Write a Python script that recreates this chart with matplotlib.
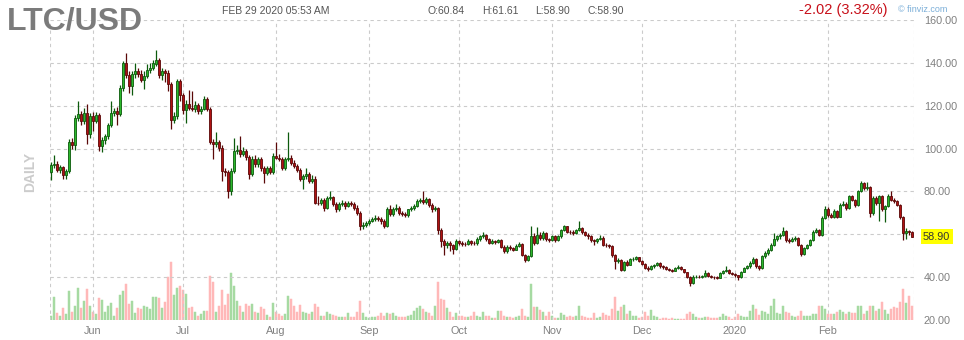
import matplotlib
matplotlib.use('Agg')
import matplotlib.pyplot as plt
import numpy as np
import pandas as pd

# ---------------- data ----------------
start_date = '2019-05-18'

opens = [89.0, 92.5, 93.0, 90.0, 91.5, 87.5, 89.5, 103.0, 101.5, 114.3,
         116.0, 113.0, 116.6, 106.6, 115.0, 113.0, 115.5, 101.4, 104.0, 106.0,
         111.0, 116.6, 117.5, 116.0, 128.3, 140.0, 134.5, 129.0, 134.6, 136.0,
         135.0, 132.0, 134.0, 136.6, 137.7, 139.7, 141.3, 134.5, 136.0, 135.3,
         130.0, 113.5, 115.0, 131.4, 125.0, 118.2, 121.0, 119.0, 118.5, 120.5,
         117.5, 118.5, 123.0, 118.5, 103.2, 102.0, 103.0, 100.5, 89.5, 89.0,
         80.0, 89.6, 99.0, 99.5, 97.4, 99.0, 96.0, 88.0, 95.0, 92.7,
         95.0, 91.0, 88.8, 91.0, 89.0, 96.6, 95.8, 95.0, 91.0, 95.0,
         95.8, 93.5, 92.0, 90.0, 86.0, 87.2, 88.0, 85.0, 86.0, 74.8,
         74.5, 76.0, 72.4, 77.0, 77.3, 74.0, 71.6, 74.0, 74.8, 73.0,
         74.6, 74.0, 72.5, 70.0, 63.8, 64.5, 65.5, 66.3, 67.0, 67.8,
         67.0, 66.3, 64.0, 71.6, 69.3, 71.6, 72.4, 70.0, 69.5, 68.8,
         71.6, 72.4, 73.0, 75.5, 76.0, 75.0, 76.3, 73.5, 71.6, 72.2,
         62.0, 57.0, 55.0, 56.0, 55.0, 53.0, 57.0, 56.0, 55.5, 55.3,
         57.0, 56.0, 55.8, 58.0, 59.0, 59.6, 57.8, 56.0, 57.0, 56.5,
         57.3, 54.3, 52.0, 54.3, 53.5, 52.8, 54.6, 55.3, 50.4, 48.1,
         50.0, 59.0, 55.9, 59.8, 58.2, 60.5, 57.8, 57.4, 59.0, 57.4,
         59.0, 62.0, 63.7, 61.3, 61.0, 60.5, 62.0, 62.8, 60.9, 59.8,
         59.0, 57.4, 56.7, 58.0, 58.5, 55.0, 54.8, 54.4, 50.4, 47.4,
         48.0, 43.5, 47.0, 45.8, 48.4, 48.6, 49.2, 47.7, 46.0, 44.5,
         44.0, 45.0, 45.6, 46.5, 45.0, 44.7, 44.0, 43.5, 43.0, 44.2,
         44.8, 43.7, 42.2, 40.0, 37.5, 40.0, 40.3, 40.0, 40.5, 41.9,
         40.4, 40.1, 40.0, 39.8, 41.9, 43.0, 43.5, 42.0, 41.6, 40.8,
         40.0, 42.6, 44.2, 45.0, 46.5, 48.5, 45.0, 44.2, 49.7, 51.2,
         52.7, 55.0, 57.8, 59.0, 59.8, 61.5, 57.5, 57.0, 58.0, 58.3,
         55.0, 51.0, 53.5, 55.0, 57.4, 61.3, 62.0, 59.6, 67.5, 72.0,
         69.0, 68.3, 71.0, 68.3, 73.8, 74.2, 72.2, 77.7, 76.0, 73.5,
         80.0, 83.9, 81.5, 82.0, 70.0, 77.0, 74.5, 77.7, 72.0, 73.0,
         78.0, 76.2, 75.5, 73.5, 68.0, 60.5, 61.5, 60.84]

highs = [93.5, 97.0, 94.0, 92.5, 92.0, 90.5, 104.5, 105.0, 115.5, 122.4,
         117.5, 119.0, 121.0, 116.5, 117.0, 117.0, 116.5, 105.5, 107.0, 112.0,
         122.0, 119.0, 119.5, 129.5, 141.0, 144.7, 136.0, 136.0, 140.0, 137.5,
         136.5, 136.0, 139.5, 140.0, 141.5, 146.0, 142.5, 137.5, 137.0, 136.5,
         131.0, 117.0, 132.5, 132.5, 126.0, 122.5, 127.5, 127.0, 122.0, 121.5,
         120.0, 124.5, 124.0, 119.5, 104.5, 107.5, 104.0, 101.5, 91.0, 90.0,
         91.0, 105.0, 101.5, 106.0, 100.5, 100.0, 97.0, 96.5, 97.0, 96.0,
         96.0, 92.0, 92.0, 92.0, 98.0, 103.0, 97.5, 96.0, 96.0, 107.5,
         97.0, 94.5, 93.0, 91.0, 88.0, 91.0, 89.0, 87.5, 87.0, 78.0,
         77.0, 77.0, 78.0, 80.0, 78.0, 75.0, 75.0, 76.0, 75.5, 75.5,
         75.5, 75.0, 73.5, 71.0, 65.5, 66.0, 67.0, 68.0, 69.0, 68.5,
         68.0, 67.0, 72.5, 73.5, 72.5, 74.0, 73.0, 71.0, 70.5, 72.0,
         73.0, 74.0, 76.5, 77.0, 80.0, 77.5, 77.0, 74.5, 73.0, 72.8,
         63.0, 58.0, 57.0, 57.0, 55.5, 58.0, 57.5, 57.0, 56.5, 57.8,
         57.5, 57.0, 58.8, 59.8, 61.0, 60.0, 58.5, 57.8, 57.5, 58.0,
         57.8, 55.0, 55.0, 55.0, 54.0, 55.5, 56.5, 55.8, 51.0, 50.5,
         64.0, 60.5, 63.5, 61.0, 61.5, 61.0, 58.5, 59.5, 59.5, 59.5,
         62.5, 64.5, 64.0, 62.0, 61.8, 62.5, 66.0, 63.5, 61.5, 60.5,
         59.5, 58.0, 58.5, 59.5, 59.0, 56.0, 55.5, 55.0, 51.0, 49.0,
         48.5, 47.5, 48.0, 49.0, 49.5, 50.0, 49.5, 48.0, 46.5, 45.0,
         45.5, 46.0, 47.0, 47.0, 45.5, 45.0, 44.5, 44.0, 44.8, 45.5,
         45.2, 44.0, 42.5, 40.5, 40.8, 41.0, 40.8, 41.0, 43.5, 42.3,
         41.0, 40.5, 40.4, 42.3, 43.5, 45.0, 44.0, 42.5, 42.0, 41.2,
         43.0, 44.6, 45.5, 47.5, 49.5, 49.0, 45.5, 50.5, 52.0, 53.5,
         55.8, 60.5, 59.8, 60.5, 63.5, 62.0, 58.3, 58.8, 59.0, 58.8,
         55.5, 54.0, 55.5, 58.0, 62.0, 63.0, 62.5, 68.5, 73.0, 72.8,
         70.0, 71.8, 71.5, 74.5, 75.5, 75.0, 78.5, 78.5, 76.5, 80.5,
         85.0, 84.5, 84.5, 82.5, 78.0, 78.0, 78.5, 78.5, 73.8, 78.8,
         80.0, 77.0, 76.0, 74.0, 68.5, 63.0, 62.0, 61.61]

lows = [85.5, 91.0, 89.0, 88.5, 86.0, 86.0, 88.5, 100.0, 99.5, 113.0,
        111.0, 111.5, 102.0, 105.0, 108.0, 112.0, 99.0, 98.5, 102.0, 104.5,
        110.0, 115.0, 111.0, 115.0, 127.0, 133.0, 126.0, 125.0, 133.0, 133.5,
        131.0, 128.0, 133.0, 135.5, 136.5, 138.5, 133.0, 132.0, 131.0, 127.0,
        109.0, 112.0, 114.0, 122.0, 116.0, 112.0, 118.0, 117.5, 117.0, 116.0,
        116.0, 118.0, 117.5, 102.0, 95.0, 100.5, 99.0, 85.0, 87.0, 77.0,
        78.5, 88.5, 97.5, 96.0, 96.5, 94.5, 86.0, 87.0, 91.5, 91.5,
        89.5, 84.0, 87.5, 88.0, 88.0, 95.0, 94.0, 90.0, 90.0, 94.0,
        92.5, 91.0, 89.0, 85.0, 81.0, 86.0, 84.0, 84.0, 74.0, 73.5,
        73.5, 71.0, 72.0, 76.0, 73.0, 70.5, 71.0, 73.0, 72.0, 72.5,
        73.0, 71.5, 69.0, 62.0, 62.5, 63.5, 64.5, 65.5, 66.0, 66.0,
        65.0, 63.0, 63.5, 68.5, 68.5, 71.0, 69.0, 68.5, 68.0, 68.0,
        71.0, 71.5, 72.5, 74.5, 74.0, 74.0, 72.5, 70.5, 71.0, 60.0,
        54.0, 50.5, 53.5, 52.0, 51.0, 52.5, 55.0, 54.5, 54.5, 55.0,
        55.0, 55.0, 55.0, 57.0, 58.5, 57.0, 55.5, 55.5, 55.5, 56.0,
        53.5, 51.5, 51.5, 52.5, 52.0, 52.5, 54.0, 50.0, 47.0, 47.5,
        49.5, 55.0, 55.5, 57.5, 57.5, 57.0, 56.5, 57.0, 56.5, 57.0,
        58.5, 61.5, 60.5, 60.0, 59.5, 60.0, 61.5, 60.0, 59.0, 58.0,
        56.5, 55.0, 56.0, 57.5, 54.5, 54.0, 53.5, 49.5, 44.0, 46.5,
        43.0, 43.0, 45.0, 45.5, 47.5, 48.0, 47.0, 45.5, 44.0, 43.0,
        43.5, 44.5, 45.0, 44.5, 44.0, 43.5, 43.0, 42.5, 42.8, 43.8,
        43.2, 41.8, 39.5, 36.0, 37.0, 39.5, 39.5, 39.5, 40.0, 40.0,
        39.5, 39.3, 39.2, 39.5, 41.5, 42.5, 41.5, 41.0, 40.3, 38.5,
        39.5, 42.2, 43.8, 44.5, 46.0, 44.5, 43.5, 44.0, 49.0, 50.5,
        52.0, 54.5, 57.0, 58.0, 59.0, 56.5, 56.0, 56.5, 57.0, 54.5,
        50.0, 50.5, 53.0, 54.5, 57.0, 60.5, 59.0, 59.0, 67.0, 68.0,
        67.5, 67.8, 67.5, 68.0, 73.0, 71.5, 71.8, 75.5, 72.8, 73.0,
        79.5, 80.5, 80.5, 68.0, 69.0, 73.5, 66.0, 71.0, 65.5, 72.5,
        75.5, 74.5, 73.0, 67.0, 57.5, 58.0, 59.5, 58.90]

closes = [92.5, 93.0, 90.0, 91.5, 87.5, 89.5, 103.0, 101.5, 114.3, 116.0,
          113.0, 116.6, 106.6, 115.0, 113.0, 115.5, 101.4, 104.0, 106.0, 111.0,
          116.6, 117.5, 116.0, 128.3, 140.0, 134.5, 129.0, 134.6, 136.0, 135.0,
          132.0, 134.0, 136.6, 137.7, 139.7, 141.3, 134.5, 136.0, 135.3, 130.0,
          113.5, 115.0, 131.4, 125.0, 118.2, 121.0, 119.0, 118.5, 120.5, 117.5,
          118.5, 123.0, 118.5, 103.2, 102.0, 103.0, 100.5, 89.5, 89.0, 80.0,
          89.6, 99.0, 99.5, 97.4, 99.0, 96.0, 88.0, 95.0, 92.7, 95.0,
          91.0, 88.8, 91.0, 89.0, 96.6, 95.8, 95.0, 91.0, 95.0, 95.8,
          93.5, 92.0, 90.0, 86.0, 87.2, 88.0, 85.0, 86.0, 74.8, 74.5,
          76.0, 72.4, 77.0, 77.3, 74.0, 71.6, 74.0, 74.8, 73.0, 74.6,
          74.0, 72.5, 70.0, 63.8, 64.5, 65.5, 66.3, 67.0, 67.8, 67.0,
          66.3, 64.0, 71.6, 69.3, 71.6, 72.4, 70.0, 69.5, 68.8, 71.6,
          72.4, 73.0, 75.5, 76.0, 75.0, 76.3, 73.5, 71.6, 72.2, 62.0,
          57.0, 55.0, 56.0, 55.0, 53.0, 57.0, 56.0, 55.5, 55.3, 57.0,
          56.0, 55.8, 58.0, 59.0, 59.6, 57.8, 56.0, 57.0, 56.5, 57.3,
          54.3, 52.0, 54.3, 53.5, 52.8, 54.6, 55.3, 50.4, 48.1, 50.0,
          59.0, 55.9, 59.8, 58.2, 60.5, 57.8, 57.4, 59.0, 57.4, 59.0,
          62.0, 63.7, 61.3, 61.0, 60.5, 62.0, 62.8, 60.9, 59.8, 59.0,
          57.4, 56.7, 58.0, 58.5, 55.0, 54.8, 54.4, 50.4, 47.4, 48.0,
          43.5, 47.0, 45.8, 48.4, 48.6, 49.2, 47.7, 46.0, 44.5, 44.0,
          45.0, 45.6, 46.5, 45.0, 44.7, 44.0, 43.5, 43.0, 44.2, 44.8,
          43.7, 42.2, 40.0, 37.5, 40.0, 40.3, 40.0, 40.5, 41.9, 40.4,
          40.1, 40.0, 39.8, 41.9, 43.0, 43.5, 42.0, 41.6, 40.8, 40.0,
          42.6, 44.2, 45.0, 46.5, 48.5, 45.0, 44.2, 49.7, 51.2, 52.7,
          55.0, 57.8, 59.0, 59.8, 61.5, 57.5, 57.0, 58.0, 58.3, 55.0,
          51.0, 53.5, 55.0, 57.4, 61.3, 62.0, 59.6, 67.5, 72.0, 69.0,
          68.3, 71.0, 68.3, 73.8, 74.2, 72.2, 77.7, 76.0, 73.5, 80.0,
          83.9, 81.5, 82.0, 70.0, 77.0, 74.5, 77.7, 72.0, 73.0, 78.0,
          76.2, 75.5, 73.5, 68.0, 60.5, 61.5, 60.92, 58.90]

# daily volume (relative units)
volume = [4, 23, 7, 4, 12, 6, 29, 8, 14, 32,
          12, 19, 31, 14, 8, 6, 22, 20, 8, 14,
          17, 4, 12, 25, 29, 36, 16, 19, 7, 12,
          11, 14, 13, 11, 23, 23, 22, 12, 18, 43,
          58, 25, 32, 34, 30, 26, 12, 13, 8, 4,
          6, 9, 9, 44, 38, 8, 14, 30, 15, 26,
          47, 34, 19, 14, 8, 16, 14, 16, 8, 7,
          13, 11, 5, 3, 17, 8, 6, 4, 6, 24,
          21, 14, 8, 15, 8, 7, 6, 8, 16, 13,
          4, 4, 8, 6, 5, 4, 3, 3, 3, 7,
          3, 3, 8, 19, 7, 3, 2, 3, 3, 4,
          7, 4, 7, 6, 7, 4, 3, 3, 3, 4,
          5, 9, 12, 14, 11, 8, 7, 4, 14, 38,
          21, 20, 12, 8, 3, 7, 4, 4, 3, 3,
          4, 8, 4, 3, 8, 4, 4, 2, 2, 9,
          9, 4, 3, 3, 2, 3, 4, 11, 4, 3,
          36, 13, 13, 10, 8, 4, 8, 4, 2, 2,
          7, 5, 3, 4, 3, 4, 14, 4, 3, 2,
          2, 7, 2, 3, 7, 5, 4, 11, 23, 9,
          13, 15, 6, 9, 4, 4, 2, 3, 8, 4,
          10, 4, 3, 1, 2, 2, 1, 2, 1, 1,
          1, 1, 6, 8, 6, 3, 2, 2, 3, 3,
          2, 2, 2, 3, 6, 4, 3, 1, 3, 6,
          4, 3, 3, 9, 15, 11, 5, 9, 8, 6,
          14, 21, 7, 6, 14, 8, 7, 4, 3, 4,
          9, 4, 4, 4, 6, 6, 14, 14, 11, 6,
          6, 6, 8, 10, 8, 6, 8, 7, 7, 14,
          14, 6, 9, 14, 14, 9, 11, 18, 10, 6,
          11, 13, 12, 18, 31, 17, 24, 14]

month_labels = ['Jun', 'Jul', 'Aug', 'Sep', 'Oct', 'Nov', 'Dec', '2020', 'Feb']
price_ticks = [20, 40, 60, 80, 100, 120, 140, 160]

ticker = 'LTC/USD'
stamp = 'FEB 29 2020 05:53 AM'
change_text = '-2.02 (3.32%)'

# ---------------- figure ----------------
plt.rcParams['font.family'] = ['Liberation Sans', 'DejaVu Sans']
W, H = 964, 340
fig = plt.figure(figsize=(W / 100, H / 100), dpi=100)
fig.patch.set_facecolor('white')

rect = [50 / W, 20 / H, 864 / W, 300 / H]
ax_vol = fig.add_axes(rect)
ax = fig.add_axes(rect, sharex=ax_vol)
ax.patch.set_alpha(0)

n = len(closes)
x = np.arange(n)
dates = pd.date_range(start_date, periods=n, freq='D')
o = np.array(opens); h = np.array(highs); l = np.array(lows); c = np.array(closes)
up = c >= o

# volume (behind)
vol_colors = np.where(up, '#a6daa2', '#ffb8b8')
ax_vol.bar(x, volume, width=0.85, color=vol_colors, edgecolor=vol_colors, linewidth=0.35)
ax_vol.set_ylim(0, 300)
ax_vol.axis('off')

# grid
grid_kw = dict(color='#cbcbcb', linestyle=(0, (3, 3)), linewidth=0.8, zorder=0)
for p in price_ticks[1:]:
    ax.axhline(p, **grid_kw)
month_pos = [i for i, d in enumerate(dates) if d.day == 1]
for mp in month_pos:
    ax.axvline(mp, **grid_kw)
xmin, xmax = -0.33, n - 0.33
ax.axvline(xmin, **grid_kw)
ax.axvline(xmax, **grid_kw)

# candles
up_fill, up_edge = '#2cb82c', '#0c5a0c'
dn_fill, dn_edge = '#b01212', '#5a0808'
wick_colors = np.where(up, up_edge, dn_edge)
ax.vlines(x, l, h, colors=wick_colors, linewidth=0.9, zorder=2)
body_bottom = np.minimum(o, c)
body_height = np.maximum(np.abs(c - o), 0.25)
ax.bar(x, body_height, bottom=body_bottom, width=0.8,
       color=np.where(up, up_fill, dn_fill),
       edgecolor=np.where(up, up_edge, dn_edge), linewidth=0.6, zorder=3)

ax.set_xlim(xmin, xmax)
ax.set_ylim(20, 160)
for s in ax.spines.values():
    s.set_visible(False)

ax.yaxis.tick_right()
ax.set_yticks(price_ticks)
ax.set_yticklabels([f'{p:.2f}' for p in price_ticks])
ax.tick_params(axis='y', length=0, pad=7, labelsize=7.8, labelcolor='#808080')
ax.set_xticks(month_pos)
ax.set_xticklabels(month_labels)
ax.tick_params(axis='x', length=0, pad=4.5, labelsize=7.8, labelcolor='#808080')

# last price tag
ax.text(1 + 9 / 864, closes[-1], f'{closes[-1]:.2f}', transform=ax.get_yaxis_transform(),
        ha='left', va='center', fontsize=7.8, color='#333333',
        bbox=dict(boxstyle='square,pad=0.22', fc='#ffff00', ec='none'), zorder=5)

# header texts
def ftext(px, py, s, **kw):
    fig.text(px / W, 1 - py / H, s, **kw)

ftext(7, 29.5, ticker, fontsize=23, fontweight='bold', color='#7b7b7b', va='baseline')
ftext(222, 14, stamp, fontsize=7.5, color='#555555', va='baseline')
for px, s in [(427, f'O:{opens[-1]:.2f}'), (482, f'H:{highs[-1]:.2f}'),
              (535, f'L:{lows[-1]:.2f}'), (588, f'C:{closes[-1]:.2f}')]:
    ftext(px, 14, s, fontsize=7.5, color='#555555', va='baseline')
ftext(799, 14, change_text, fontsize=10.5, color='#c8101a', va='baseline')
ftext(898, 11.5, '\u00a9 finviz.com', fontsize=6.5, color='#7aaed8', va='baseline')
ftext(30, 172, 'DAILY', fontsize=10, fontweight='bold', color='#cccccc',
      rotation=90, ha='center', va='center')

fig.savefig('out.png', dpi=100, facecolor='white')
